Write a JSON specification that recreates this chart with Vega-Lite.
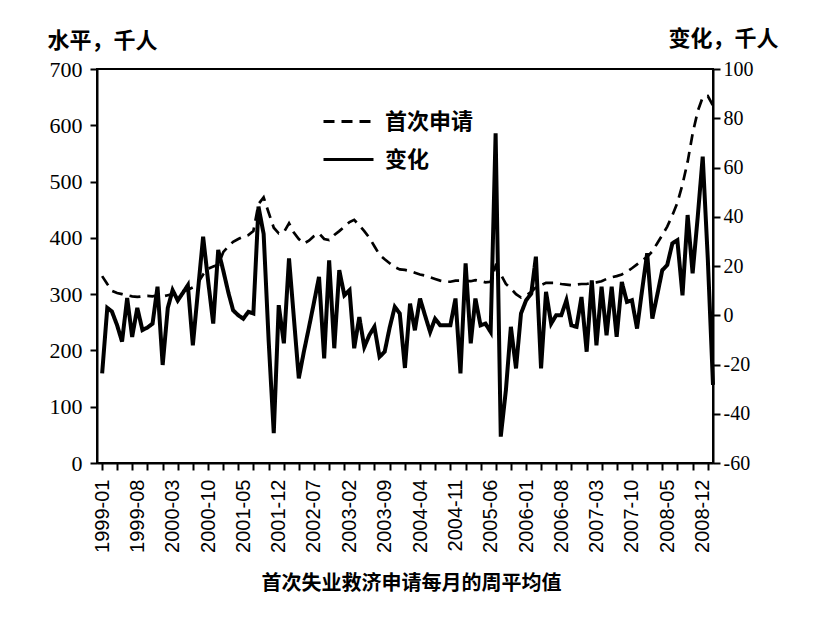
{
  "$schema": "https://vega.github.io/schema/vega-lite/v6.json",
  "width": 616,
  "height": 394,
  "autosize": "none",
  "padding": {"left": 97, "top": 69, "right": 116, "bottom": 159},
  "background": "white",
  "data": {
    "format": {"parse": {"month": "utc:'%Y-%m'"}},
    "values": [
      {"month": "1999-01", "level": 332, "change": -23.6},
      {"month": "1999-02", "level": 318, "change": 3},
      {"month": "1999-03", "level": 306, "change": 1.5},
      {"month": "1999-04", "level": 302, "change": -4},
      {"month": "1999-05", "level": 300, "change": -10.7},
      {"month": "1999-06", "level": 298, "change": 7},
      {"month": "1999-07", "level": 296, "change": -8.8},
      {"month": "1999-08", "level": 295, "change": 3},
      {"month": "1999-09", "level": 296, "change": -6},
      {"month": "1999-10", "level": 297, "change": -5},
      {"month": "1999-11", "level": 296, "change": -3.4},
      {"month": "1999-12", "level": 298, "change": 11.6},
      {"month": "2000-01", "level": 296, "change": -20.2},
      {"month": "2000-02", "level": 298, "change": 3},
      {"month": "2000-03", "level": 300, "change": 10.2},
      {"month": "2000-04", "level": 302, "change": 6},
      {"month": "2000-05", "level": 305, "change": 9},
      {"month": "2000-06", "level": 308, "change": 12.2},
      {"month": "2000-07", "level": 312, "change": -12.2},
      {"month": "2000-08", "level": 320, "change": 10},
      {"month": "2000-09", "level": 335, "change": 31.9},
      {"month": "2000-10", "level": 345, "change": 14},
      {"month": "2000-11", "level": 349, "change": -3.4},
      {"month": "2000-12", "level": 352, "change": 26.5},
      {"month": "2001-01", "level": 375, "change": 18},
      {"month": "2001-02", "level": 385, "change": 9},
      {"month": "2001-03", "level": 393, "change": 2},
      {"month": "2001-04", "level": 398, "change": 0},
      {"month": "2001-05", "level": 402, "change": -1.4},
      {"month": "2001-06", "level": 405, "change": 1.4},
      {"month": "2001-07", "level": 412, "change": 0.7},
      {"month": "2001-08", "level": 460, "change": 44.1},
      {"month": "2001-09", "level": 472, "change": 33},
      {"month": "2001-10", "level": 445, "change": -10},
      {"month": "2001-11", "level": 418, "change": -47.9},
      {"month": "2001-12", "level": 408, "change": 4.1},
      {"month": "2002-01", "level": 410, "change": -11.4},
      {"month": "2002-02", "level": 426, "change": 23.1},
      {"month": "2002-03", "level": 410, "change": 0},
      {"month": "2002-04", "level": 398, "change": -25.6},
      {"month": "2002-05", "level": 390, "change": -15},
      {"month": "2002-06", "level": 395, "change": -5},
      {"month": "2002-07", "level": 403, "change": 5},
      {"month": "2002-08", "level": 408, "change": 15.6},
      {"month": "2002-09", "level": 398, "change": -17.5},
      {"month": "2002-10", "level": 396, "change": 22.3},
      {"month": "2002-11", "level": 405, "change": -13.4},
      {"month": "2002-12", "level": 412, "change": 18.3},
      {"month": "2003-01", "level": 420, "change": 8.1},
      {"month": "2003-02", "level": 428, "change": 10.2},
      {"month": "2003-03", "level": 432, "change": -13.4},
      {"month": "2003-04", "level": 422, "change": -0.7},
      {"month": "2003-05", "level": 412, "change": -12.9},
      {"month": "2003-06", "level": 400, "change": -8},
      {"month": "2003-07", "level": 385, "change": -4.7},
      {"month": "2003-08", "level": 370, "change": -16.9},
      {"month": "2003-09", "level": 362, "change": -14.8},
      {"month": "2003-10", "level": 355, "change": -5},
      {"month": "2003-11", "level": 348, "change": 3.4},
      {"month": "2003-12", "level": 344, "change": 0.7},
      {"month": "2004-01", "level": 343, "change": -21.4},
      {"month": "2004-02", "level": 341, "change": 4.7},
      {"month": "2004-03", "level": 338, "change": -6.1},
      {"month": "2004-04", "level": 335, "change": 6.8},
      {"month": "2004-05", "level": 333, "change": 0},
      {"month": "2004-06", "level": 330, "change": -6.8},
      {"month": "2004-07", "level": 327, "change": -1.4},
      {"month": "2004-08", "level": 324, "change": -4.1},
      {"month": "2004-09", "level": 322, "change": -4.1},
      {"month": "2004-10", "level": 322, "change": -4.1},
      {"month": "2004-11", "level": 324, "change": 6.8},
      {"month": "2004-12", "level": 324, "change": -23.6},
      {"month": "2005-01", "level": 323, "change": 21.1},
      {"month": "2005-02", "level": 323, "change": -11.4},
      {"month": "2005-03", "level": 325, "change": 6.8},
      {"month": "2005-04", "level": 323, "change": -4.1},
      {"month": "2005-05", "level": 321, "change": -3.4},
      {"month": "2005-06", "level": 322, "change": -6.8},
      {"month": "2005-07", "level": 350, "change": 73.9},
      {"month": "2005-08", "level": 335, "change": -49.3},
      {"month": "2005-09", "level": 318, "change": -30.4},
      {"month": "2005-10", "level": 310, "change": -4.7},
      {"month": "2005-11", "level": 300, "change": -21.6},
      {"month": "2005-12", "level": 294, "change": 0.7},
      {"month": "2006-01", "level": 298, "change": 6.1},
      {"month": "2006-02", "level": 304, "change": 8.8},
      {"month": "2006-03", "level": 312, "change": 23.8},
      {"month": "2006-04", "level": 316, "change": -21.6},
      {"month": "2006-05", "level": 320, "change": 9.5},
      {"month": "2006-06", "level": 320, "change": -3.4},
      {"month": "2006-07", "level": 320, "change": 0},
      {"month": "2006-08", "level": 318, "change": 0},
      {"month": "2006-09", "level": 317, "change": 6.1},
      {"month": "2006-10", "level": 316, "change": -4.1},
      {"month": "2006-11", "level": 317, "change": -4.7},
      {"month": "2006-12", "level": 318, "change": 7.4},
      {"month": "2007-01", "level": 318, "change": -14.8},
      {"month": "2007-02", "level": 320, "change": 14.2},
      {"month": "2007-03", "level": 321, "change": -12.2},
      {"month": "2007-04", "level": 323, "change": 11.6},
      {"month": "2007-05", "level": 327, "change": -8.1},
      {"month": "2007-06", "level": 330, "change": 11.6},
      {"month": "2007-07", "level": 332, "change": -8.8},
      {"month": "2007-08", "level": 335, "change": 13.5},
      {"month": "2007-09", "level": 340, "change": 5.4},
      {"month": "2007-10", "level": 346, "change": 6.1},
      {"month": "2007-11", "level": 353, "change": -5.4},
      {"month": "2007-12", "level": 360, "change": 10},
      {"month": "2008-01", "level": 366, "change": 25.2},
      {"month": "2008-02", "level": 376, "change": -1.4},
      {"month": "2008-03", "level": 390, "change": 8},
      {"month": "2008-04", "level": 405, "change": 18.3},
      {"month": "2008-05", "level": 420, "change": 20.4},
      {"month": "2008-06", "level": 440, "change": 29.2},
      {"month": "2008-07", "level": 462, "change": 30.5},
      {"month": "2008-08", "level": 495, "change": 8.1},
      {"month": "2008-09", "level": 535, "change": 40.7},
      {"month": "2008-10", "level": 585, "change": 17},
      {"month": "2008-11", "level": 625, "change": 40},
      {"month": "2008-12", "level": 650, "change": 64.4},
      {"month": "2009-01", "level": 652, "change": 22.4},
      {"month": "2009-02", "level": 635, "change": -28.3}
    ]
  },
  "layer": [
    {
      "mark": {"type": "line", "color": "black", "strokeWidth": 2.7},
      "encoding": {
        "x": {
          "field": "month",
          "type": "temporal",
          "scale": {
            "type": "utc",
            "domain": [
              {"year": 1998, "month": 12, "date": 1, "utc": true},
              {"year": 2009, "month": 2, "date": 1, "utc": true}
            ]
          },
          "axis": {
            "orient": "bottom",
            "values": [
              {"year": 1999, "month": 1, "utc": true},
              {"year": 1999, "month": 8, "utc": true},
              {"year": 2000, "month": 3, "utc": true},
              {"year": 2000, "month": 10, "utc": true},
              {"year": 2001, "month": 5, "utc": true},
              {"year": 2001, "month": 12, "utc": true},
              {"year": 2002, "month": 7, "utc": true},
              {"year": 2003, "month": 2, "utc": true},
              {"year": 2003, "month": 9, "utc": true},
              {"year": 2004, "month": 4, "utc": true},
              {"year": 2004, "month": 11, "utc": true},
              {"year": 2005, "month": 6, "utc": true},
              {"year": 2006, "month": 1, "utc": true},
              {"year": 2006, "month": 8, "utc": true},
              {"year": 2007, "month": 3, "utc": true},
              {"year": 2007, "month": 10, "utc": true},
              {"year": 2008, "month": 5, "utc": true},
              {"year": 2008, "month": 12, "utc": true}
            ],
            "format": "%Y-%m",
            "labelAngle": -90,
            "ticks": false,
            "domain": false,
            "labelFont": "Liberation Sans",
            "labelFontSize": 20,
            "labelPadding": 16,
            "labelFlush": false,
            "labelOverlap": false,
            "title": "首次失业救济申请每月的周平均值",
            "titleFont": "Noto Sans CJK SC",
            "titleFontSize": 20,
            "titleFontWeight": "bold",
            "titleBaseline": "middle",
            "titleX": 314,
            "titleY": 120
          }
        },
        "y": {
          "field": "level",
          "type": "quantitative",
          "scale": {"domain": [0, 700], "nice": false},
          "axis": {
            "orient": "left",
            "values": [0, 100, 200, 300, 400, 500, 600, 700],
            "tickSize": 7,
            "labelFont": "Liberation Serif",
            "labelFontSize": 22,
            "labelPadding": 8,
            "title": "水平，千人",
            "titleAngle": 0,
            "titleAlign": "left",
            "titleBaseline": "middle",
            "titleX": -50,
            "titleY": -29,
            "titleFont": "Noto Sans CJK SC",
            "titleFontSize": 22,
            "titleFontWeight": "bold"
          }
        },
        "strokeDash": {
          "datum": "首次申请",
          "type": "nominal",
          "scale": {"domain": ["首次申请", "变化"], "range": [[11, 7], [1, 0]]},
          "legend": {
            "title": null,
            "orient": "none",
            "legendX": 225,
            "legendY": 26,
            "symbolType": "stroke",
            "symbolSize": 2500,
            "symbolStrokeWidth": 3,
            "symbolStrokeColor": "black",
            "labelFont": "Noto Sans CJK SC",
            "labelFontSize": 22,
            "labelFontWeight": "bold",
            "labelColor": "black",
            "labelOffset": 10,
            "rowPadding": -15
          }
        }
      }
    },
    {
      "mark": {"type": "line", "color": "black", "strokeWidth": 4},
      "encoding": {
        "x": {
          "field": "month",
          "type": "temporal",
          "axis": {
            "orient": "bottom",
            "labels": false,
            "tickCount": {"interval": "month", "step": 3},
            "tickSize": 7,
            "title": null
          }
        },
        "y": {
          "field": "change",
          "type": "quantitative",
          "scale": {"domain": [-60, 100], "nice": false},
          "axis": {
            "orient": "right",
            "values": [-60, -40, -20, 0, 20, 40, 60, 80, 100],
            "labelExpr": "'' + datum.value",
            "tickSize": 7,
            "labelFont": "Liberation Serif",
            "labelFontSize": 20,
            "labelPadding": 3,
            "title": "变化，千人",
            "titleAngle": 0,
            "titleAlign": "right",
            "titleBaseline": "middle",
            "titleX": 65,
            "titleY": -31,
            "titleFont": "Noto Sans CJK SC",
            "titleFontSize": 22,
            "titleFontWeight": "bold"
          }
        },
        "strokeDash": {"datum": "变化", "type": "nominal"}
      }
    }
  ],
  "resolve": {"scale": {"y": "independent"}, "axis": {"x": "independent"}},
  "config": {
    "view": {"stroke": "black", "strokeWidth": 2},
    "axis": {
      "grid": false,
      "domainColor": "black",
      "domainWidth": 2,
      "tickColor": "black",
      "tickWidth": 2,
      "labelColor": "black",
      "titleColor": "black"
    }
  }
}
